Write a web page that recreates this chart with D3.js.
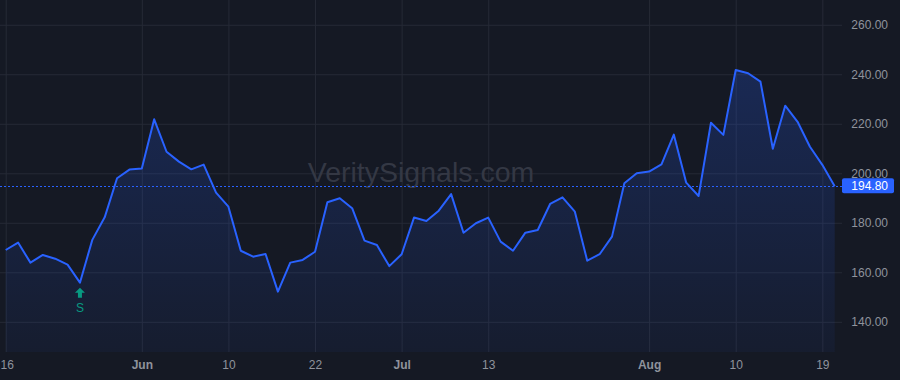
<!DOCTYPE html>
<html>
<head>
<meta charset="utf-8">
<script src="https://cdn.jsdelivr.net/npm/d3@7"></script>
<style>
  html, body { margin: 0; padding: 0; background: #151924; }
  svg { display: block; font-family: "Liberation Sans", Arial, sans-serif; }
</style>
</head>
<body>
<div id="chart"></div>
<script>
// data
var values = [169.0, 172.0, 163.9, 167.0, 165.5, 163.1, 155.8, 173.1, 182.2, 198.0,
    201.5, 201.9, 221.8, 208.7, 204.7, 201.6, 203.5, 192.2, 186.5, 168.7,
    166.3, 167.4, 152.2, 163.9, 165.0, 168.3, 188.3, 189.9, 185.9, 172.8,
    171.0, 162.5, 167.3, 182.1, 180.7, 184.9, 191.6, 176.0, 179.8, 182.1,
    172.4, 168.7, 176.0, 177.1, 187.6, 190.3, 184.5, 164.7, 167.3, 174.4,
    196.0, 200.0, 200.7, 203.6, 215.6, 196.2, 190.8, 220.4, 215.5, 241.7,
    240.4, 237.0, 209.9, 227.3, 220.8, 210.7, 203.4, 194.8];
var xTickIndex = [0, 11, 18, 25, 32, 39, 52, 59, 66];
var xTickLabels = ["16", "Jun", "10", "22", "Jul", "13", "Aug", "10", "19"];
var monthLabels = ["Jun", "Jul", "Aug"];
var yTicks = [140, 160, 180, 200, 220, 240, 260];
var lastPrice = 194.80;
var signalIndex = 6;
var signalLabel = "S";

var svgWidth = 900;
var svgHeight = 380;
var plotRight = 842;
var plotBottom = 352;

var svg = d3.select("#chart")
    .append("svg")
    .attr("width", svgWidth)
    .attr("height", svgHeight);

svg.append("rect")
    .attr("width", svgWidth)
    .attr("height", svgHeight)
    .attr("fill", "#151924");

var x = d3.scaleLinear()
    .domain([0, values.length - 1])
    .range([5.7, 834.7]);

var y = d3.scaleLinear()
    .domain([127.8, 270])
    .range([plotBottom, 0]);

// grid lines
var xGrid = d3.axisBottom(x)
    .tickValues(xTickIndex)
    .tickSize(plotBottom)
    .tickFormat("");
svg.append("g")
    .attr("class", "grid")
    .call(xGrid)
    .call(g => g.select(".domain").remove())
    .call(g => g.selectAll("line").attr("stroke", "#262a36"));

var yGrid = d3.axisLeft(y)
    .tickValues(yTicks)
    .tickSize(plotRight)
    .tickFormat("");
svg.append("g")
    .attr("transform", `translate(${plotRight}, 0)`)
    .call(yGrid)
    .call(g => g.select(".domain").remove())
    .call(g => g.selectAll("line").attr("stroke", "#262a36"));

// watermark
svg.append("text")
    .attr("x", 421)
    .attr("y", 182)
    .attr("text-anchor", "middle")
    .attr("font-size", 28.5)
    .attr("fill", "#343844")
    .text("VeritySignals.com");

// area gradient
var defs = svg.append("defs");
var grad = defs.append("linearGradient")
    .attr("id", "areaGrad")
    .attr("gradientUnits", "userSpaceOnUse")
    .attr("x1", 0).attr("x2", 0)
    .attr("y1", y(d3.max(values)))
    .attr("y2", plotBottom);
grad.append("stop").attr("offset", "0").attr("stop-color", "#2962ff").attr("stop-opacity", 0.22);
grad.append("stop").attr("offset", "1").attr("stop-color", "#2962ff").attr("stop-opacity", 0.05);

var area = d3.area()
    .x((d, i) => x(i))
    .y0(plotBottom)
    .y1(d => y(d));

svg.append("path")
    .datum(values)
    .attr("d", area)
    .attr("fill", "url(#areaGrad)");

// last price dotted line
svg.append("line")
    .attr("x1", 0)
    .attr("x2", plotRight)
    .attr("y1", Math.round(y(lastPrice)) + 0.5)
    .attr("y2", Math.round(y(lastPrice)) + 0.5)
    .attr("stroke", "#2962ff")
    .attr("stroke-width", 1)
    .attr("stroke-dasharray", "2,2");

var line = d3.line()
    .x((d, i) => x(i))
    .y(d => y(d));

svg.append("path")
    .datum(values)
    .attr("d", line)
    .attr("fill", "none")
    .attr("stroke", "#2962ff")
    .attr("stroke-width", 2)
    .attr("stroke-linejoin", "round");

// signal marker
var sx = x(signalIndex);
var sy = y(values[signalIndex]);
svg.append("path")
    .attr("d", `M${sx},${sy + 5} l5,5 h-3 v5 h-4 v-5 h-3 z`)
    .attr("fill", "#089981");
svg.append("text")
    .attr("x", sx)
    .attr("y", sy + 29)
    .attr("text-anchor", "middle")
    .attr("font-size", 12)
    .attr("fill", "#089981")
    .text(signalLabel);

// y axis labels on the right
var yAxis = d3.axisRight(y)
    .tickValues(yTicks)
    .tickSize(0)
    .tickPadding(0)
    .tickFormat(d3.format(".2f"));
svg.append("g")
    .attr("transform", `translate(888, 0)`)
    .call(yAxis)
    .call(g => g.select(".domain").remove())
    .call(g => g.selectAll("text")
        .attr("text-anchor", "end")
        .attr("font-size", 12)
        .attr("font-family", "Liberation Sans, Arial, sans-serif")
        .attr("fill", "#8f939c"));

// x axis labels
var xAxis = d3.axisBottom(x)
    .tickValues(xTickIndex)
    .tickSize(0)
    .tickPadding(0)
    .tickFormat((d, i) => xTickLabels[i]);
svg.append("g")
    .attr("transform", `translate(0, 360)`)
    .call(xAxis)
    .call(g => g.select(".domain").remove())
    .call(g => g.selectAll("text")
        .attr("font-size", 12)
        .attr("font-family", "Liberation Sans, Arial, sans-serif")
        .attr("fill", "#8f939c")
        .attr("font-weight", function () {
            return monthLabels.includes(d3.select(this).text()) ? "bold" : "normal";
        }));
svg.selectAll("g text").filter(function () { return d3.select(this).text() === "16"; })
    .attr("text-anchor", "start")
    .attr("x", -5.7);

// last price label
var py = y(lastPrice);
svg.append("rect")
    .attr("x", 842)
    .attr("y", py - 8)
    .attr("width", 52)
    .attr("height", 15)
    .attr("rx", 2)
    .attr("fill", "#2962ff");
svg.append("text")
    .attr("x", 888)
    .attr("y", py + 4)
    .attr("text-anchor", "end")
    .attr("font-size", 12)
    .attr("fill", "#ffffff")
    .text(lastPrice.toFixed(2));
</script>
</body>
</html>
